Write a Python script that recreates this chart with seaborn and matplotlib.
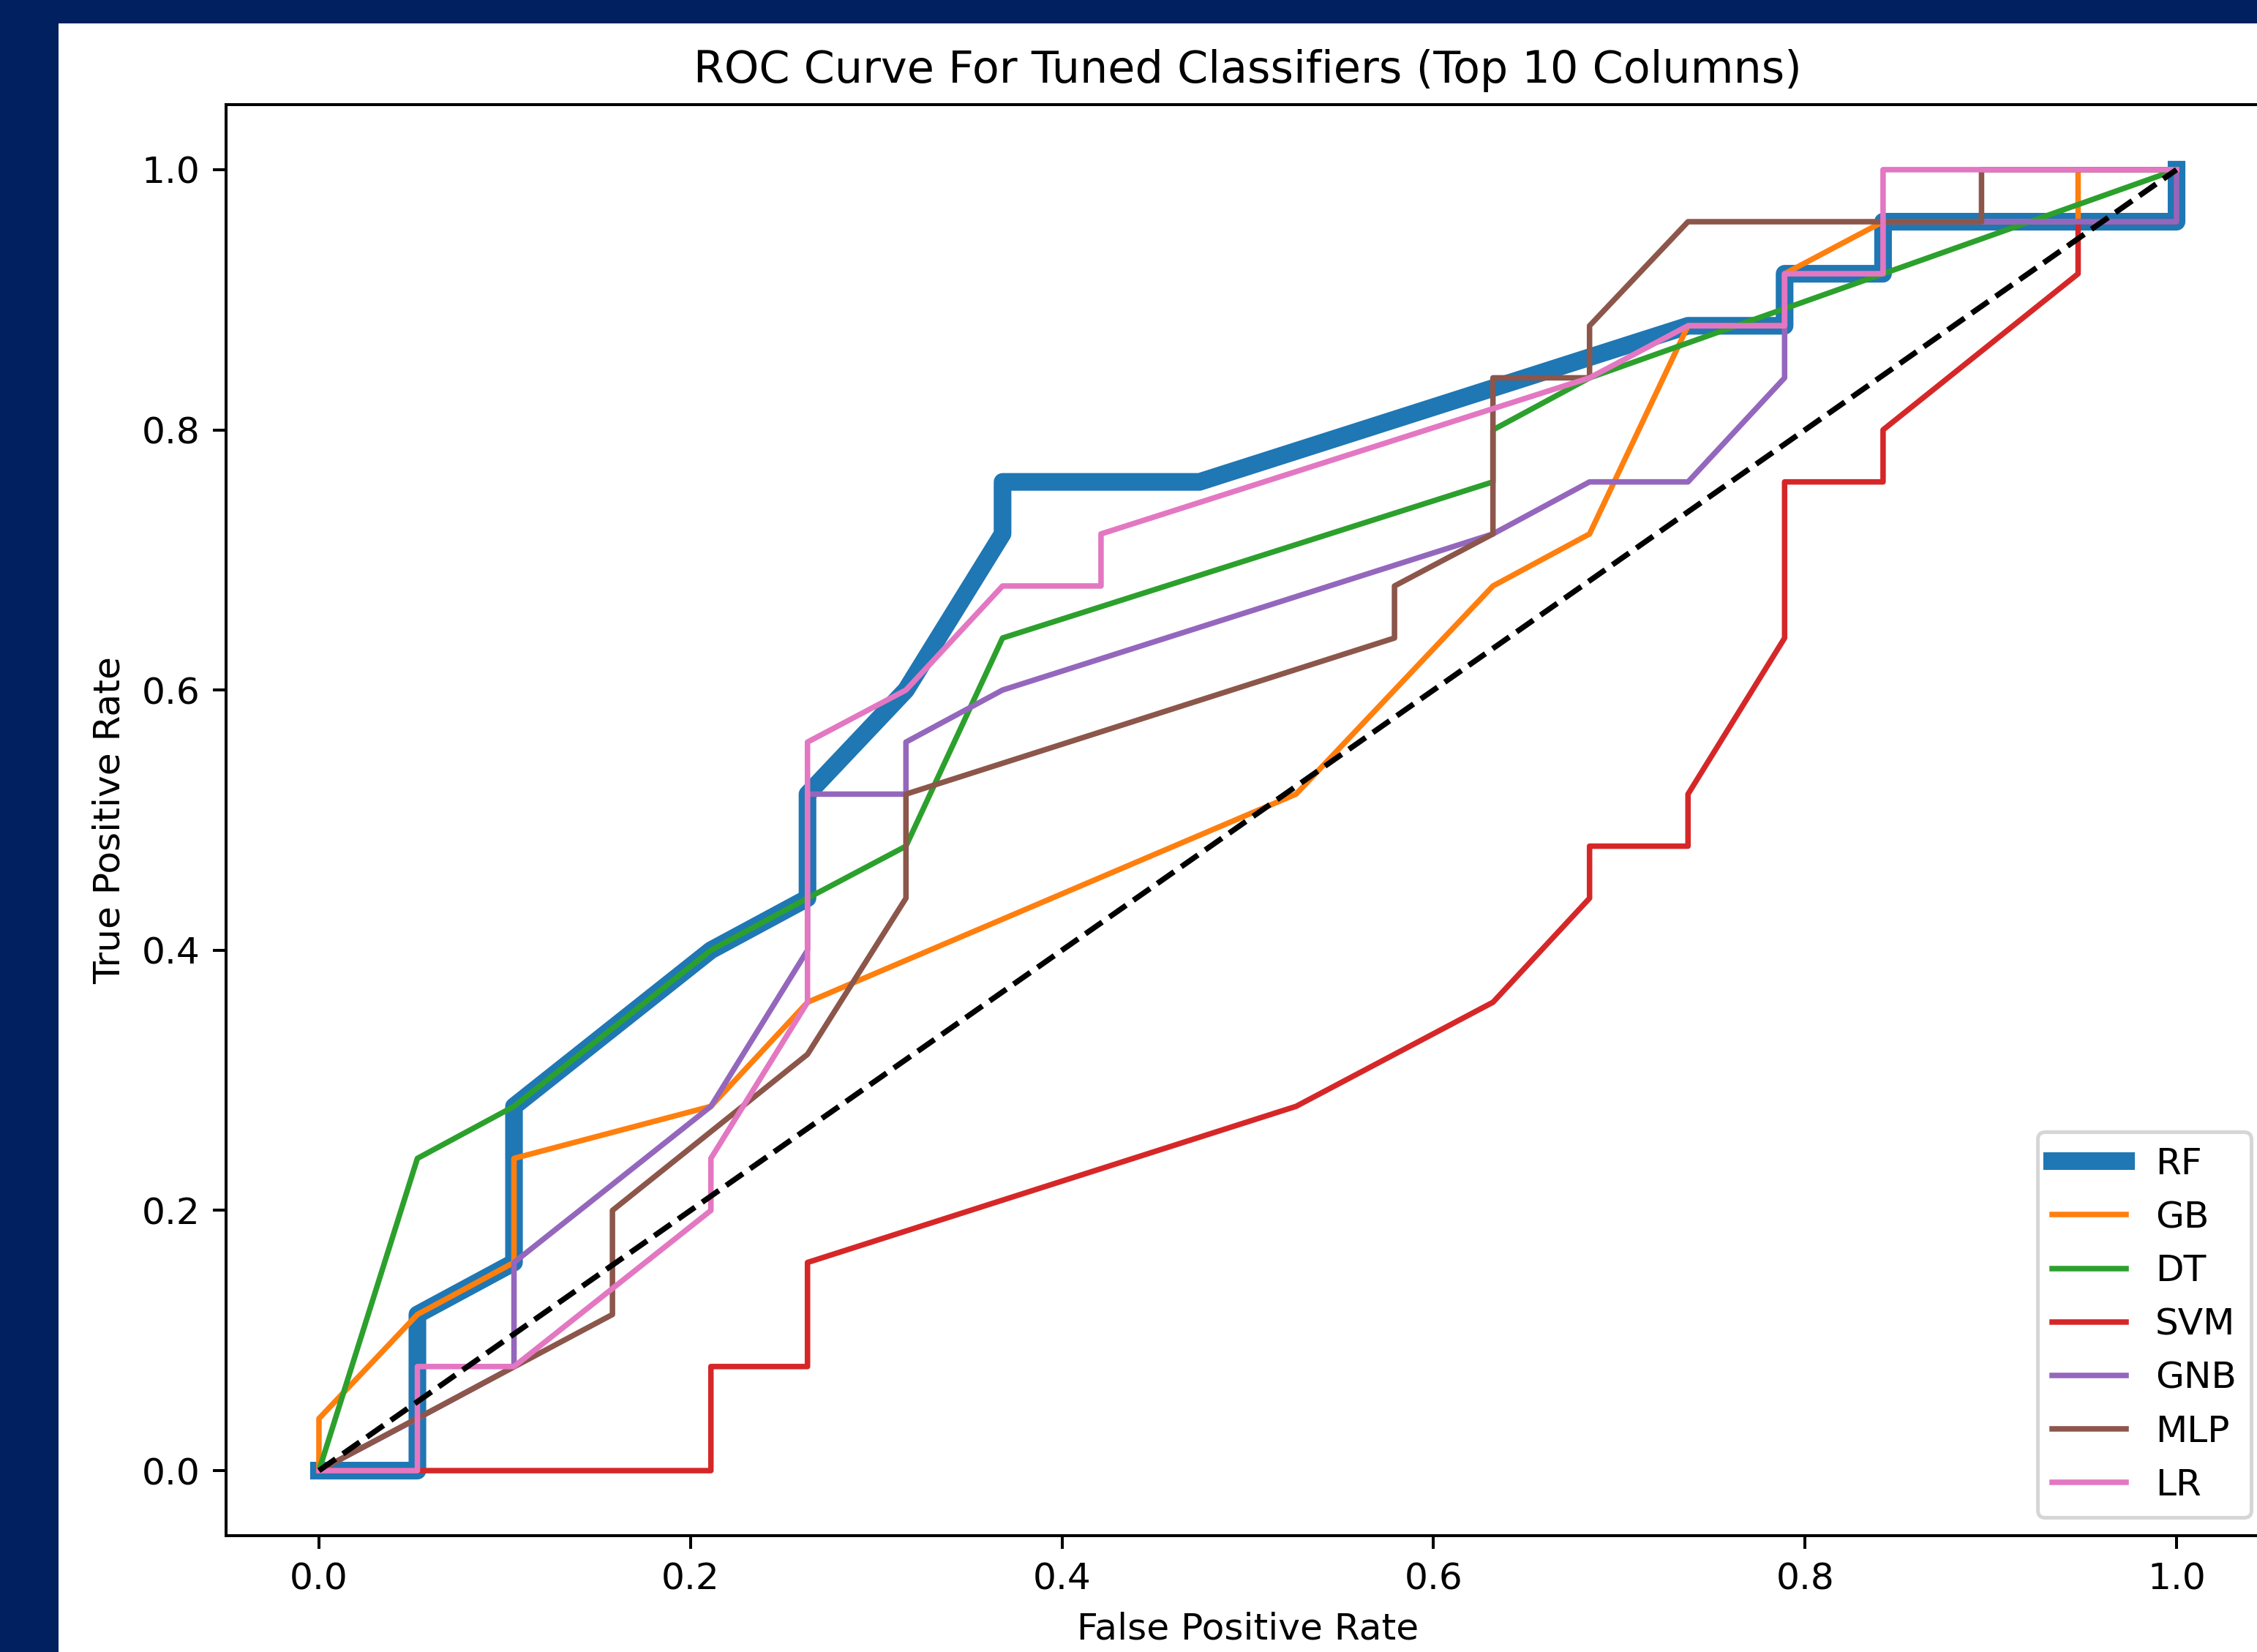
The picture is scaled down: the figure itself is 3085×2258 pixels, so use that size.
import numpy as np
import pandas as pd
import matplotlib
matplotlib.use("Agg")
import matplotlib.pyplot as plt
from matplotlib.patches import Rectangle
import seaborn as sns

# ROC points (19 negatives / 25 positives in the test set)
rf_fpr = [0, 0.053, 0.053, 0.105, 0.105, 0.211, 0.263, 0.263, 0.316, 0.368, 0.368, 0.474, 0.737, 0.789, 0.789, 0.842, 0.842, 1.0, 1.0]
rf_tpr = [0, 0, 0.12, 0.16, 0.28, 0.40, 0.44, 0.52, 0.60, 0.72, 0.76, 0.76, 0.88, 0.88, 0.92, 0.92, 0.96, 0.96, 1.0]

gb_fpr = [0, 0, 0.053, 0.105, 0.105, 0.211, 0.263, 0.526, 0.632, 0.684, 0.737, 0.789, 0.789, 0.842, 0.947, 0.947, 1.0]
gb_tpr = [0, 0.04, 0.12, 0.16, 0.24, 0.28, 0.36, 0.52, 0.68, 0.72, 0.88, 0.88, 0.92, 0.96, 0.96, 1.0, 1.0]

dt_fpr = [0, 0.053, 0.105, 0.211, 0.263, 0.316, 0.368, 0.632, 0.632, 0.684, 1.0]
dt_tpr = [0, 0.24, 0.28, 0.40, 0.44, 0.48, 0.64, 0.76, 0.80, 0.84, 1.0]

svm_fpr = [0, 0.211, 0.211, 0.263, 0.263, 0.526, 0.632, 0.684, 0.684, 0.737, 0.737, 0.789, 0.789, 0.842, 0.842, 0.947, 0.947, 1.0, 1.0]
svm_tpr = [0, 0, 0.08, 0.08, 0.16, 0.28, 0.36, 0.44, 0.48, 0.48, 0.52, 0.64, 0.76, 0.76, 0.80, 0.92, 0.96, 0.96, 1.0]

gnb_fpr = [0, 0.053, 0.105, 0.105, 0.211, 0.263, 0.263, 0.316, 0.316, 0.368, 0.632, 0.684, 0.737, 0.789, 0.789, 0.842, 0.842, 1.0, 1.0]
gnb_tpr = [0, 0.04, 0.08, 0.16, 0.28, 0.40, 0.52, 0.52, 0.56, 0.60, 0.72, 0.76, 0.76, 0.84, 0.92, 0.92, 0.96, 0.96, 1.0]

mlp_fpr = [0, 0.158, 0.158, 0.263, 0.316, 0.316, 0.579, 0.579, 0.632, 0.632, 0.684, 0.684, 0.737, 0.895, 0.895, 1.0]
mlp_tpr = [0, 0.12, 0.20, 0.32, 0.44, 0.52, 0.64, 0.68, 0.72, 0.84, 0.84, 0.88, 0.96, 0.96, 1.0, 1.0]

lr_fpr = [0, 0.053, 0.053, 0.105, 0.211, 0.211, 0.263, 0.263, 0.316, 0.368, 0.421, 0.421, 0.684, 0.737, 0.789, 0.789, 0.842, 0.842, 1.0]
lr_tpr = [0, 0, 0.08, 0.08, 0.20, 0.24, 0.36, 0.56, 0.60, 0.68, 0.68, 0.72, 0.84, 0.88, 0.88, 0.92, 0.92, 1.0, 1.0]

models = ['RF', 'GB', 'DT', 'SVM', 'GNB', 'MLP', 'LR']
curves = [(rf_fpr, rf_tpr), (gb_fpr, gb_tpr), (dt_fpr, dt_tpr), (svm_fpr, svm_tpr),
          (gnb_fpr, gnb_tpr), (mlp_fpr, mlp_tpr), (lr_fpr, lr_tpr)]

colors = sns.color_palette('tab10')

W, H, dpi = 3086, 2258, 362
fig = plt.figure(figsize=(W / dpi, H / dpi), dpi=dpi, facecolor='#00205f')
# white screenshot area inside the navy frame
fig.patches.append(Rectangle((80 / W, 0), 1, 1 - 32 / H, transform=fig.transFigure,
                             facecolor='white', edgecolor='none', zorder=-1))

ax = fig.add_axes([309 / W, 159 / H, 2793 / W, 1956 / H])

for i, (name, (fpr, tpr)) in enumerate(zip(models, curves)):
    sns.lineplot(x=fpr, y=tpr, sort=False, estimator=None, ax=ax, label=name,
                 color=colors[i], linewidth=4.8 if name == 'RF' else 1.5)

ax.plot([0, 1], [0, 1], 'k--', linewidth=1.5)

ax.set_xlim(-0.05, 1.05)
ax.set_ylim(-0.05, 1.05)
ax.set_xticks([0, 0.2, 0.4, 0.6, 0.8, 1.0])
ax.set_yticks([0, 0.2, 0.4, 0.6, 0.8, 1.0])
ax.set_xlabel('False Positive Rate')
ax.set_ylabel('True Positive Rate')
ax.set_title('ROC Curve For Tuned Classifiers (Top 10 Columns)')
ax.legend(loc='lower right')

fig.savefig('out.png', dpi=dpi, facecolor=fig.get_facecolor())
